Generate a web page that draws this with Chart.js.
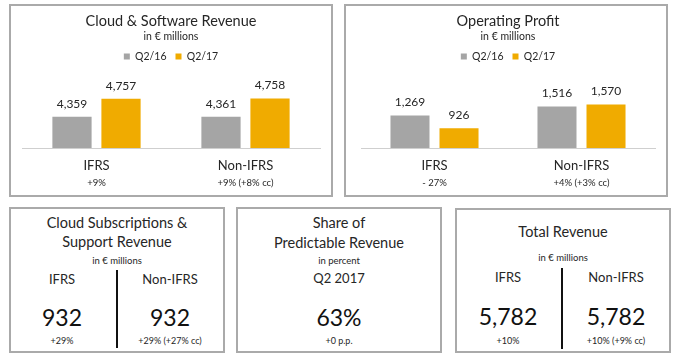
<!DOCTYPE html>
<html>
<head>
<meta charset="utf-8">
<script src="https://cdn.jsdelivr.net/npm/chart.js@4"></script>
<style>
  html, body { margin:0; padding:0; background:#fff; }
  body { width:683px; height:358px; position:relative; overflow:hidden; font-family:Lato, sans-serif; color:#262626; }
  .box { position:absolute; box-sizing:border-box; border:2px solid #aaaaaa; background:#fff; }
  .t { position:absolute; text-align:center; white-space:nowrap; }
  .div { position:absolute; width:2px; background:#111; }
</style>
</head>
<body>
<div class="box" style="left:9px;top:4px;width:324px;height:193px;"><canvas id="c1" width="320" height="189"></canvas></div>
<div class="box" style="left:344px;top:4px;width:324px;height:193px;"><canvas id="c2" width="320" height="189"></canvas></div>
<div class="box" style="left:9px;top:207px;width:216px;height:146px;"></div>
<div class="box" style="left:236px;top:207px;width:206px;height:146px;"></div>
<div class="box" style="left:455px;top:208px;width:216px;height:145px;"></div>
<div class="div" style="left:116px;top:270px;height:78px;"></div>
<div class="div" style="left:561px;top:268px;height:81px;"></div>
<script>
// ---- data ----
const categories = ['IFRS', 'Non-IFRS'];
const seriesLabels = ['Q2/16', 'Q2/17'];
const cloudSoftwareQ216 = [4359, 4361];
const cloudSoftwareQ217 = [4757, 4758];
const cloudSoftwareGrowth = ['+9%', '+9% (+8% cc)'];
const operatingProfitQ216 = [1269, 1516];
const operatingProfitQ217 = [926, 1570];
const operatingProfitGrowth = ['- 27%', '+4% (+3% cc)'];
const cloudSubscriptions = [932, 932];
const cloudSubscriptionsGrowth = ['+29%', '+29% (+27% cc)'];
const predictableShare = [63];
const predictableGrowth = ['+0 p.p.'];
const totalRevenue = [5782, 5782];
const totalRevenueGrowth = ['+10%', '+10% (+9% cc)'];

const FONT = 'Lato, sans-serif';
const TXT = '#262626';
const GRAY = '#a5a5a5';
const GOLD = '#f0ab00';
const fmt = v => v.toLocaleString('en-US');

const valueLabels = {
  id: 'valueLabels',
  afterDatasetsDraw(chart) {
    const ctx = chart.ctx;
    ctx.save();
    ctx.font = '12px ' + FONT;
    ctx.fillStyle = TXT;
    ctx.textAlign = 'center';
    ctx.textBaseline = 'middle';
    chart.data.datasets.forEach((ds, di) => {
      chart.getDatasetMeta(di).data.forEach((el, i) => {
        ctx.fillText(fmt(ds.data[i]), el.x, el.y - 13);
      });
    });
    ctx.restore();
  }
};

function makeChart(id, title, q16, q17, growth, yMin, yMax, padL, padR, cp, bp) {
  return new Chart(document.getElementById(id), {
    type: 'bar',
    data: {
      labels: categories,
      datasets: [
        { label: seriesLabels[0], data: q16, backgroundColor: GRAY, categoryPercentage: cp, barPercentage: bp },
        { label: seriesLabels[1], data: q17, backgroundColor: GOLD, categoryPercentage: cp, barPercentage: bp }
      ]
    },
    options: {
      responsive: false,
      animation: false,
      devicePixelRatio: 1,
      layout: { padding: { left: padL, right: padR, top: 0, bottom: 5 } },
      plugins: {
        title: { display: true, text: title, color: TXT, font: { family: FONT, size: 14.5, weight: 'normal', lineHeight: 1.2 }, padding: { top: 6.3, bottom: 0 } },
        subtitle: { display: true, text: 'in € millions', color: TXT, font: { family: FONT, size: 10.5, lineHeight: 1 }, padding: { top: 2, bottom: 0 } },
        legend: { display: true, labels: { boxWidth: 6, boxHeight: 6, padding: 9, color: TXT, font: { family: FONT, size: 10.5 } } },
        tooltip: { enabled: false }
      },
      scales: {
        x: {
          type: 'category', offset: true,
          grid: { display: false, drawTicks: false },
          border: { display: true, color: '#cfcfcf', width: 1 },
          ticks: { color: TXT, font: { family: FONT, size: 13 }, padding: 10.2, maxRotation: 0, autoSkip: false },
          afterFit(s) { s.height = 28; }
        },
        x2: {
          type: 'category', labels: growth, offset: true, position: 'bottom',
          grid: { display: false, drawTicks: false },
          border: { display: false },
          ticks: { color: TXT, font: { family: FONT, size: 9.5 }, padding: 1.3, maxRotation: 0, autoSkip: false }
        },
        y: { display: false, min: yMin, max: yMax }
      }
    },
    plugins: [valueLabels]
  });
}

makeChart('c1', 'Cloud & Software Revenue', cloudSoftwareQ216, cloudSoftwareQ217, cloudSoftwareGrowth, 3673, 5349, 11, 11, 0.658, 0.8);
makeChart('c2', 'Operating Profit', operatingProfitQ216, operatingProfitQ217, operatingProfitGrowth, 390, 2461, 15, 11, 0.667, 0.796);

// ---- KPI boxes ----
function text(str, cx, cy, size, color) {
  const d = document.createElement('div');
  d.className = 't';
  d.textContent = str;
  d.style.left = (cx - 110) + 'px';
  d.style.width = '220px';
  d.style.fontSize = size + 'px';
  d.style.lineHeight = (size * 1.2) + 'px';
  d.style.top = (cy - size * 0.62) + 'px';
  if (color) d.style.color = color;
  document.body.appendChild(d);
}
// Cloud Subscriptions & Support Revenue
text('Cloud Subscriptions &', 117, 223, 14.5);
text('Support Revenue', 117, 242, 14.5);
text('in € millions', 117, 261, 9.5);
text(categories[0], 62, 280, 13);
text(categories[1], 170, 280, 13);
text(fmt(cloudSubscriptions[0]), 62, 318, 23, '#111');
text(fmt(cloudSubscriptions[1]), 170, 318, 23, '#111');
text(cloudSubscriptionsGrowth[0], 62, 342, 9);
text(cloudSubscriptionsGrowth[1], 170, 342, 9);
// Share of Predictable Revenue
text('Share of', 339, 223, 14.5);
text('Predictable Revenue', 339, 243, 14.5);
text('in percent', 339, 261, 9.5);
text('Q2 2017', 339, 279, 13);
text(predictableShare[0] + '%', 339, 318, 23, '#111');
text(predictableGrowth[0], 339, 342, 9);
// Total Revenue
text('Total Revenue', 563, 232, 14.5);
text('in € millions', 563, 258, 9.5);
text(categories[0], 508, 278, 13);
text(categories[1], 616, 278, 13);
text(fmt(totalRevenue[0]), 508, 317, 23, '#111');
text(fmt(totalRevenue[1]), 616, 317, 23, '#111');
text(totalRevenueGrowth[0], 508, 342, 9);
text(totalRevenueGrowth[1], 616, 342, 9);
</script>
</body>
</html>
